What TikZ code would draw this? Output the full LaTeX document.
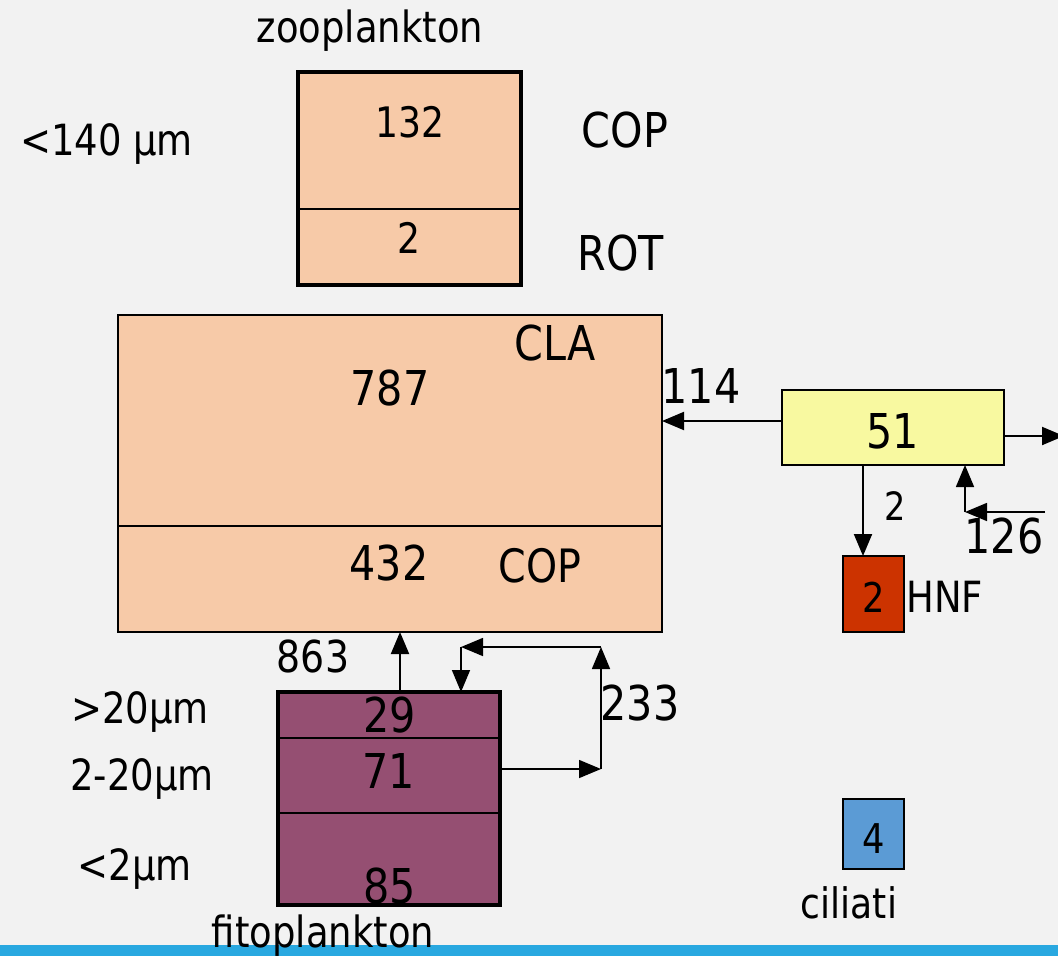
\documentclass[tikz,border=0pt]{standalone}
\usepackage{fontspec}
\setmainfont{DejaVu Sans}[FakeStretch=0.86]
\usetikzlibrary{arrows.meta}
\newcommand\fsz[1]{\fontsize{#1}{#1}\selectfont}
\definecolor{bg}{HTML}{F2F2F2}
\definecolor{peach}{HTML}{F7CAA8}
\definecolor{yel}{HTML}{F8F9A0}
\definecolor{hnfred}{HTML}{CC3300}
\definecolor{cilblue}{HTML}{5B9BD5}
\definecolor{plum}{HTML}{954F72}
\definecolor{barblue}{HTML}{29A8E0}
\tikzset{
  box/.style={draw, inner sep=0pt, outer sep=0pt, anchor=north west},
  lbl/.style={inner sep=0pt, anchor=base},
  tip/.tip={Triangle[length=22pt,width=18pt]},
  arr/.style={line width=2pt, -tip},
  thinarr/.style={line width=1.6pt, -tip},
  divider/.style={line width=2pt}
}
\begin{document}
\begin{tikzpicture}[x=1pt,y=-1pt]
\fill[bg] (0,0) rectangle (1058,956);
\useasboundingbox (0,0) rectangle (1058,956);
\fill[barblue] (0,945) rectangle (1058,956);

% boxes
\node[box, fill=peach, line width=4pt, minimum width=223pt, minimum height=213pt] (zoo) at (298,72) {};
\draw[divider] (zoo.west |- 0,209) -- (zoo.east |- 0,209);
\node[box, fill=peach, line width=1.6pt, minimum width=544pt, minimum height=317pt] (cla) at (118,315) {};
\draw[line width=1.4pt] (cla.west |- 0,526) -- (cla.east |- 0,526);
\node[box, fill=yel, line width=2.5pt, minimum width=222pt, minimum height=75pt] (yb) at (782,390) {};
\node[box, fill=hnfred, line width=2.5pt, minimum width=61pt, minimum height=76pt] (hnf) at (843,556) {};
\node[box, fill=cilblue, line width=2.5pt, minimum width=61pt, minimum height=70pt] (cil) at (843,799) {};
\node[box, fill=plum, line width=4pt, minimum width=222pt, minimum height=213pt] (phy) at (278,692) {};
\draw[divider] (phy.west |- 0,738) -- (phy.east |- 0,738);
\draw[divider] (phy.west |- 0,813) -- (phy.east |- 0,813);

% labels
\node[lbl] (tzoo) at (370,42) {\fsz{43}zooplankton};
\node[lbl, anchor=base west] (t140) at (20,155) {\fsz{43}<140 µm};
\node[lbl] (tcop) at (625,147) {\fsz{48}COP};
\node[lbl] (trot) at (621,270) {\fsz{48}ROT};
\node[lbl] (t132) at (410,137) {\fsz{42}132};
\node[lbl] (t2z) at (409,253) {\fsz{42}2};
\node[lbl] (tcla) at (555,360) {\fsz{48}CLA};
\node[lbl] (t787) at (390,405) {\fsz{48}787};
\node[lbl] (t432) at (389,580) {\fsz{48}432};
\node[lbl] (tcop2) at (540,582) {\fsz{46}COP};
\node[lbl] (t114) at (701,403) {\fsz{48}114};
\node[lbl] (t51) at (893,448) {\fsz{48}51};
\node[lbl] (t2a) at (895,520) {\fsz{39}2};
\node[lbl] (t126) at (1004,553) {\fsz{48}126};
\node[lbl] (t2h) at (874,612) {\fsz{41}2};
\node[lbl, anchor=base west] (thnf) at (906,612) {\fsz{43}HNF};
\node[lbl] (t863) at (313,672) {\fsz{44}863};
\node[lbl] (t233) at (640,720) {\fsz{48}233};
\node[lbl] (t29) at (390,732) {\fsz{48}29};
\node[lbl] (t71) at (389,788) {\fsz{48}71};
\node[lbl] (t85) at (390,903) {\fsz{48}85};
\node[lbl] (tg20) at (140,723) {\fsz{43}>20µm};
\node[lbl] (t220) at (142,790) {\fsz{43}2-20µm};
\node[lbl] (tl2) at (135,880) {\fsz{43}<2µm};
\node[lbl] (t4) at (874,853) {\fsz{41}4};
\node[lbl] (tcil) at (849,918) {\fsz{42}ciliati};
\node[lbl] (tfit) at (323,947) {\fsz{43}fitoplankton};

% connectors
\draw[arr] (yb.west |- 0,421) -- (cla.east |- 0,421);
\coordinate (rend) at (1064,436);
\draw[arr] (yb.east |- 0,436) -- (rend);
\draw[arr] (yb.south -| 863,0) -- (hnf.north -| 863,0);
\coordinate (ca) at (1045,512);
\coordinate (cb) at (965,512);
\draw[thinarr] (ca) -- (cb);
\draw[thinarr] (cb) -- (yb.south -| cb);
\draw[arr] (phy.north -| 400,0) -- (cla.south -| 400,0);
\coordinate (l1) at (601,769);
\coordinate (l2) at (601,647);
\coordinate (l3) at (461,647);
\draw[thinarr] (phy.east |- l1) -- (l1);
\draw[thinarr] (l1) -- (l2);
\draw[thinarr] (l2) -- (l3);
\draw[thinarr] (l3) -- (phy.north -| l3);
\end{tikzpicture}
\end{document}
